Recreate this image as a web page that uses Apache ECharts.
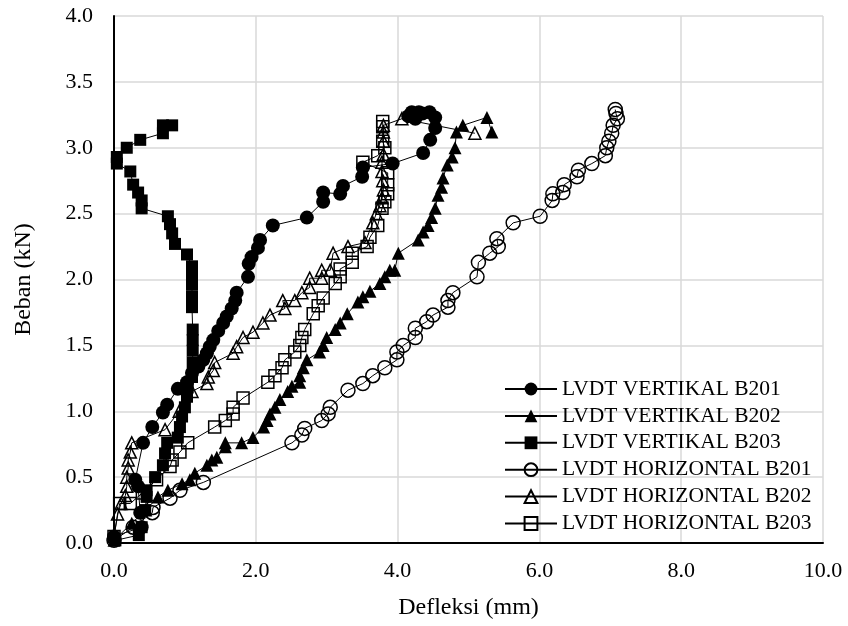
<!DOCTYPE html>
<html>
<head>
<meta charset="utf-8">
<script src="https://cdn.jsdelivr.net/npm/echarts@6/dist/echarts.min.js"></script>
<style>
html, body { margin: 0; background: #fff; }
#chart { width: 848px; height: 626px; }
</style>
</head>
<body>
<div id="chart"></div>
<script>
// deflection (mm), load (kN)
var vertB201 = [
    [0.00, 0.05], [0.39, 0.12], [0.37, 0.23], [0.34, 0.43], [0.30, 0.48], [0.41, 0.76],
    [0.54, 0.88], [0.69, 0.99], [0.75, 1.05], [0.90, 1.17], [1.03, 1.22], [1.10, 1.29],
    [1.19, 1.34], [1.26, 1.39], [1.31, 1.44], [1.35, 1.49], [1.40, 1.54], [1.47, 1.61],
    [1.54, 1.67], [1.59, 1.72], [1.66, 1.78], [1.71, 1.84], [1.73, 1.90], [1.89, 2.02],
    [1.90, 2.12], [1.94, 2.17], [2.03, 2.24], [2.06, 2.30], [2.24, 2.41], [2.72, 2.47],
    [2.95, 2.59], [2.95, 2.66], [3.19, 2.65], [3.23, 2.71], [3.50, 2.78], [3.51, 2.85],
    [3.93, 2.88], [4.36, 2.96], [4.46, 3.06], [4.53, 3.15], [4.53, 3.23], [4.45, 3.27],
    [4.30, 3.27], [4.20, 3.27], [4.15, 3.24], [4.25, 3.22], [4.35, 3.26]
];
var vertB202 = [
    [0.00, 0.02], [0.25, 0.15], [0.45, 0.25], [0.62, 0.35], [0.76, 0.40], [0.96, 0.45],
    [1.07, 0.48], [1.14, 0.53], [1.31, 0.59], [1.38, 0.63], [1.45, 0.65], [1.57, 0.73],
    [1.57, 0.76], [1.80, 0.76], [1.96, 0.80], [2.11, 0.88], [2.16, 0.93], [2.20, 0.98],
    [2.27, 1.03], [2.34, 1.09], [2.45, 1.15], [2.51, 1.19], [2.62, 1.22], [2.62, 1.27],
    [2.67, 1.33], [2.72, 1.39], [2.90, 1.45], [2.95, 1.50], [3.00, 1.56], [3.12, 1.62],
    [3.19, 1.67], [3.29, 1.74], [3.44, 1.83], [3.51, 1.87], [3.61, 1.91], [3.75, 1.97],
    [3.82, 2.02], [3.89, 2.07], [3.96, 2.07], [4.01, 2.20], [4.29, 2.30], [4.36, 2.36],
    [4.43, 2.41], [4.48, 2.47], [4.53, 2.54], [4.57, 2.64], [4.62, 2.70], [4.64, 2.77],
    [4.70, 2.87], [4.77, 2.93], [4.81, 3.00], [4.83, 3.12], [4.92, 3.17], [5.26, 3.23],
    [5.33, 3.12]
];
var vertB203 = [
    [0.02, 0.02], [0.35, 0.06], [0.39, 0.12], [0.44, 0.25], [0.46, 0.35], [0.46, 0.40],
    [0.58, 0.50], [0.69, 0.59], [0.72, 0.68], [0.75, 0.76], [0.90, 0.80], [0.93, 0.88],
    [0.96, 0.96], [1.00, 1.03], [1.03, 1.11], [1.04, 1.18], [1.10, 1.26], [1.11, 1.37],
    [1.11, 1.46], [1.11, 1.54], [1.11, 1.62], [1.10, 1.79], [1.10, 1.87], [1.10, 1.96],
    [1.10, 2.03], [1.10, 2.10], [1.03, 2.19], [0.86, 2.27], [0.82, 2.35], [0.79, 2.42],
    [0.76, 2.48], [0.39, 2.54], [0.39, 2.60], [0.34, 2.66], [0.27, 2.72], [0.23, 2.82],
    [0.04, 2.88], [0.04, 2.93], [0.18, 3.00], [0.37, 3.06], [0.69, 3.11], [0.69, 3.17],
    [0.82, 3.17]
];
var horB201 = [
    [0.00, 0.02], [0.27, 0.12], [0.54, 0.23], [0.55, 0.27], [0.79, 0.34], [0.93, 0.40],
    [1.26, 0.46], [2.51, 0.76], [2.65, 0.82], [2.69, 0.87], [2.93, 0.93], [3.02, 0.98],
    [3.05, 1.03], [3.30, 1.16], [3.51, 1.21], [3.65, 1.27], [3.82, 1.33], [3.99, 1.39],
    [3.99, 1.45], [4.08, 1.50], [4.25, 1.56], [4.25, 1.63], [4.41, 1.68], [4.50, 1.73],
    [4.71, 1.79], [4.71, 1.84], [4.78, 1.90], [5.12, 2.02], [5.14, 2.13], [5.30, 2.20],
    [5.42, 2.25], [5.40, 2.31], [5.63, 2.43], [6.01, 2.48], [6.18, 2.60], [6.19, 2.65],
    [6.33, 2.66], [6.35, 2.72], [6.53, 2.78], [6.55, 2.83], [6.74, 2.88], [6.93, 2.94],
    [6.95, 3.00], [6.98, 3.05], [7.02, 3.11], [7.04, 3.17], [7.10, 3.22], [7.08, 3.26],
    [7.07, 3.29]
];
var horB202 = [
    [0.00, 0.05], [0.05, 0.22], [0.10, 0.30], [0.16, 0.36], [0.18, 0.43], [0.18, 0.50],
    [0.20, 0.57], [0.20, 0.63], [0.23, 0.69], [0.25, 0.76], [0.72, 0.86], [0.92, 1.00],
    [1.10, 1.15], [1.31, 1.21], [1.33, 1.26], [1.40, 1.31], [1.42, 1.37], [1.68, 1.44],
    [1.73, 1.49], [1.82, 1.56], [1.96, 1.60], [2.10, 1.67], [2.20, 1.73], [2.41, 1.78],
    [2.38, 1.84], [2.55, 1.84], [2.65, 1.90], [2.76, 1.94], [2.76, 2.01], [2.93, 2.01],
    [2.93, 2.07], [3.05, 2.07], [3.09, 2.20], [3.30, 2.25], [3.54, 2.28], [3.65, 2.43],
    [3.70, 2.50], [3.75, 2.56], [3.78, 2.62], [3.80, 2.68], [3.79, 2.75], [3.78, 2.82],
    [3.78, 2.89], [3.80, 2.95], [3.80, 3.05], [3.80, 3.12], [3.80, 3.17], [4.06, 3.22],
    [5.09, 3.11]
];
var horB203 = [
    [0.00, 0.05], [0.08, 0.30], [0.23, 0.30], [0.40, 0.38], [0.60, 0.48], [0.79, 0.58],
    [0.82, 0.63], [0.93, 0.69], [1.04, 0.76], [1.42, 0.88], [1.57, 0.93], [1.68, 0.98],
    [1.68, 1.03], [1.82, 1.10], [2.17, 1.22], [2.27, 1.27], [2.37, 1.33], [2.41, 1.39],
    [2.55, 1.45], [2.62, 1.50], [2.65, 1.56], [2.69, 1.62], [2.81, 1.74], [2.88, 1.80],
    [2.95, 1.86], [3.12, 1.97], [3.19, 2.02], [3.19, 2.08], [3.36, 2.13], [3.36, 2.20],
    [3.57, 2.25], [3.61, 2.32], [3.72, 2.41], [3.78, 2.54], [3.82, 2.59], [3.86, 2.65],
    [3.86, 2.72], [3.86, 2.81], [3.51, 2.89], [3.72, 2.94], [3.82, 3.00], [3.79, 3.05],
    [3.79, 3.16], [3.79, 3.20]
];

var serif = '"Liberation Serif", "DejaVu Serif", serif';

function mkSeries(name, data, symbol, size, filled) {
    return {
        name: name,
        type: 'line',
        data: data,
        symbol: symbol,
        symbolSize: size,
        showAllSymbol: true,
        animation: false,
        lineStyle: { color: '#000', width: 1 },
        itemStyle: filled ? { color: '#000' } : { color: 'rgba(0,0,0,0)', borderColor: '#000', borderWidth: 1.5 },
        emphasis: { disabled: true }
    };
}

var myChart = echarts.init(document.getElementById('chart'));
myChart.setOption({
    backgroundColor: '#fff',
    animation: false,
    grid: { left: 114, right: 25, top: 16, bottom: 83 },
    legend: {
        orient: 'vertical',
        left: 499,
        top: 373,
        itemWidth: 52,
        itemHeight: 16,
        itemGap: 4.9,
        textStyle: { fontFamily: serif, fontSize: 21.5, color: '#000', lineHeight: 20 }
    },
    xAxis: {
        type: 'value',
        min: 0,
        max: 10,
        interval: 2,
        name: 'Defleksi (mm)',
        nameLocation: 'middle',
        nameGap: 53,
        nameTextStyle: { fontFamily: serif, fontSize: 24, color: '#000' },
        axisLine: { lineStyle: { color: '#000', width: 2 } },
        axisTick: { show: false },
        axisLabel: { fontFamily: serif, fontSize: 22, color: '#000', margin: 17, formatter: function (v) { return v.toFixed(1); } },
        splitLine: { lineStyle: { color: '#d9d9d9', width: 1.5 } }
    },
    yAxis: {
        type: 'value',
        min: 0,
        max: 4,
        interval: 0.5,
        name: 'Beban (kN)',
        nameLocation: 'middle',
        nameGap: 78,
        nameTextStyle: { fontFamily: serif, fontSize: 24, color: '#000' },
        axisLine: { show: true, lineStyle: { color: '#000', width: 2 } },
        axisTick: { show: false },
        axisLabel: { fontFamily: serif, fontSize: 22, color: '#000', margin: 21, formatter: function (v) { return v.toFixed(1); } },
        splitLine: { lineStyle: { color: '#d9d9d9', width: 1.5 } }
    },
    series: [
        mkSeries('LVDT VERTIKAL B201', vertB201, 'circle', 14, true),
        mkSeries('LVDT VERTIKAL B202', vertB202, 'triangle', 13, true),
        mkSeries('LVDT VERTIKAL B203', vertB203, 'rect', 12, true),
        mkSeries('LVDT HORIZONTAL B201', horB201, 'circle', 14, false),
        mkSeries('LVDT HORIZONTAL B202', horB202, 'triangle', 12, false),
        mkSeries('LVDT HORIZONTAL B203', horB203, 'rect', 12, false)
    ]
});
</script>
</body>
</html>
